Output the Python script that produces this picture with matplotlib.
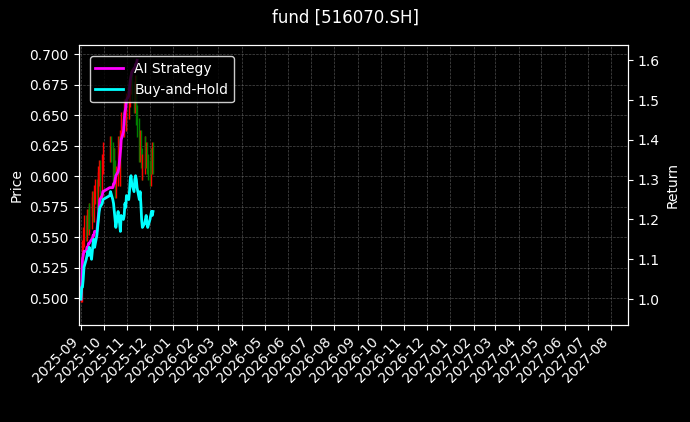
import matplotlib.pyplot as plt
import matplotlib.dates as mdates
import matplotlib.ticker as mticker
import pandas as pd
import numpy as np

# trading days, Oct holiday removed
days = pd.bdate_range("2025-09-01", "2025-12-05")
days = days[(days < "2025-10-01") | (days > "2025-10-08")]

close = [0.505, 0.52, 0.54, 0.55, 0.56, 0.555, 0.565, 0.56, 0.57, 0.565, 0.575, 0.58, 0.57, 0.585, 0.59, 0.58, 0.595, 0.60, 0.605, 0.59, 0.61, 0.62,
         0.625, 0.62, 0.60, 0.615, 0.605, 0.59, 0.60, 0.625, 0.61, 0.60, 0.63, 0.645, 0.64, 0.655, 0.65, 0.645, 0.66,
         0.655, 0.665, 0.675, 0.68, 0.67, 0.66, 0.675, 0.665, 0.65, 0.64, 0.62, 0.63, 0.615, 0.605, 0.61, 0.625, 0.615, 0.62, 0.61, 0.605,
         0.60, 0.615, 0.61, 0.62, 0.61]
buy_hold = [1.00, 1.03, 1.03, 1.05, 1.08, 1.10, 1.11, 1.12, 1.11, 1.13, 1.10, 1.12, 1.14, 1.15, 1.13, 1.16, 1.18, 1.20, 1.22, 1.23, 1.24, 1.25,
            1.26, 1.27, 1.25, 1.24, 1.22, 1.20, 1.18, 1.22, 1.20, 1.19, 1.17, 1.21, 1.20, 1.21, 1.24, 1.23, 1.26,
            1.25, 1.27, 1.30, 1.31, 1.29, 1.27, 1.30, 1.31, 1.30, 1.28, 1.25, 1.27, 1.24, 1.20, 1.18, 1.19, 1.20, 1.21, 1.19, 1.18,
            1.20, 1.21, 1.22, 1.21, 1.22]
ai_strategy = [1.00, 1.03, 1.10, 1.11, 1.12, 1.12, 1.13, 1.13, 1.14, 1.14, 1.15, 1.15, 1.16, 1.16, 1.17, 1.17, 1.19, 1.21, 1.23, 1.25, 1.26, 1.27,
               1.28, 1.28, 1.28, 1.29, 1.29, 1.30, 1.31, 1.32, 1.33, 1.35, 1.37, 1.40, 1.42, 1.45, 1.47, 1.48, 1.50,
               1.51, 1.53, 1.55, 1.56, 1.57, 1.58, 1.58, 1.59, 1.59, 1.60] + [np.nan] * 15

plt.style.use("dark_background")
fig, ax = plt.subplots(figsize=(6.9, 4.22), dpi=100)
opens = [close[0]] + close[:-1]
for d, o, c in zip(days, opens, close):
    col = "red" if c >= o else "green"
    ax.vlines(d, min(o, c) - 0.008, max(o, c) + 0.008, color=col, linewidth=1)
ax.set_ylim(0.478, 0.7074)
ax.yaxis.set_major_locator(mticker.MultipleLocator(0.025))
ax.yaxis.set_major_formatter(mticker.FormatStrFormatter("%.3f"))
ax.set_ylabel("Price")
ax.grid(True, color="gray", linestyle="--", linewidth=0.5, alpha=0.6)

ax2 = ax.twinx()
ax2.plot(days, ai_strategy, color="magenta", linewidth=2, label="AI Strategy")
ax2.plot(days, buy_hold, color="cyan", linewidth=2, label="Buy-and-Hold")
ax2.set_ylim(0.935, 1.638)
ax2.set_ylabel("Return")
leg = ax2.legend(loc="upper left", borderaxespad=0.8)
leg.get_frame().set_edgecolor("white")

ax.set_xlim(pd.Timestamp("2025-08-29"), pd.Timestamp("2027-08-23"))
ax.xaxis.set_major_locator(mdates.MonthLocator())
ax.xaxis.set_major_formatter(mdates.DateFormatter("%Y-%m"))
plt.setp(ax.get_xticklabels(), rotation=45, ha="right")
fig.suptitle("fund [516070.SH]")
fig.subplots_adjust(left=0.114, right=0.910, top=0.893, bottom=0.23)
fig.savefig("out.png")
